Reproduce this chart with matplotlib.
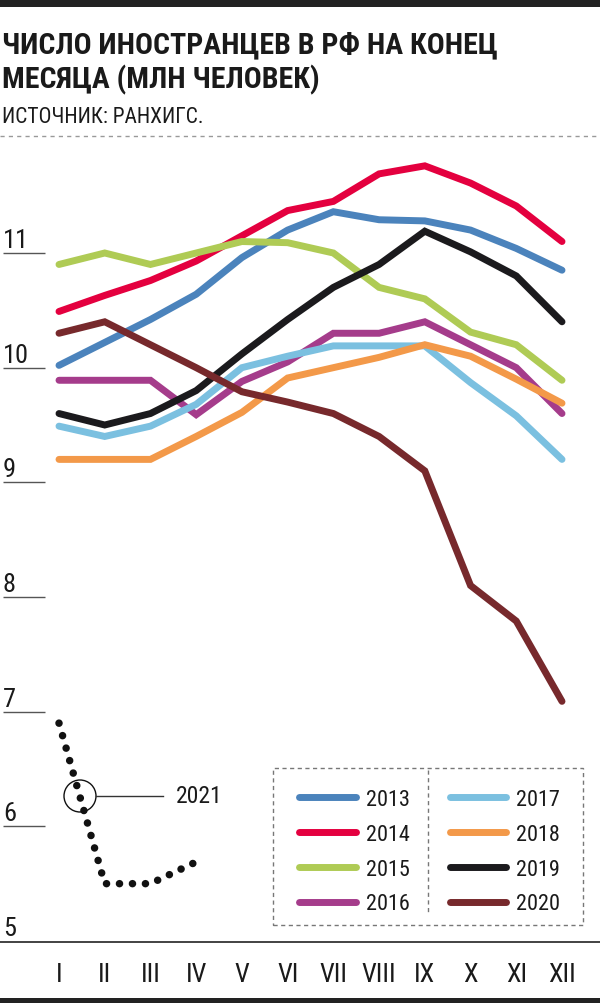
import matplotlib
matplotlib.use("Agg")
import matplotlib.pyplot as plt
from matplotlib import font_manager
from matplotlib.patches import Rectangle, Ellipse
from matplotlib.lines import Line2D

months = ["I", "II", "III", "IV", "V", "VI", "VII", "VIII", "IX", "X", "XI", "XII"]
years = ["2013", "2014", "2015", "2016", "2017", "2018", "2019", "2020"]
v2013 = [10.02, 10.22, 10.42, 10.64, 10.96, 11.20, 11.36, 11.29, 11.28, 11.20, 11.04, 10.85]
v2014 = [10.49, 10.63, 10.76, 10.93, 11.15, 11.37, 11.45, 11.69, 11.76, 11.61, 11.41, 11.10]
v2015 = [10.90, 11.00, 10.90, 11.00, 11.10, 11.09, 11.00, 10.70, 10.60, 10.31, 10.20, 9.89]
v2016 = [9.89, 9.89, 9.89, 9.59, 9.88, 10.05, 10.30, 10.30, 10.40, 10.20, 10.00, 9.60]
v2017 = [9.49, 9.40, 9.49, 9.68, 10.00, 10.10, 10.19, 10.19, 10.19, 9.87, 9.58, 9.20]
v2018 = [9.20, 9.20, 9.20, 9.40, 9.61, 9.91, 10.00, 10.09, 10.20, 10.10, 9.90, 9.69]
v2019 = [9.60, 9.50, 9.60, 9.80, 10.12, 10.42, 10.70, 10.90, 11.19, 11.01, 10.80, 10.40]
v2020 = [10.30, 10.40, 10.20, 10.00, 9.79, 9.70, 9.60, 9.40, 9.10, 8.10, 7.79, 7.09]
months2021 = ["I", "II", "III", "IV"]
v2021 = [6.90, 5.50, 5.50, 5.69]
yticks = [5, 6, 7, 8, 9, 10, 11]

series = [v2013, v2014, v2015, v2016, v2017, v2018, v2019, v2020]
colors = ["#4b83bc", "#e4003f", "#afcb55", "#a53c8b", "#7bc0e0", "#f39949", "#1b1a1d", "#77292c"]

names = {f.name for f in font_manager.fontManager.ttflist}
cands = ["Roboto Condensed", "Open Sans Condensed", "Liberation Sans Narrow", "Liberation Sans"]
FONT = next((c for c in cands if c in names), "DejaVu Sans")
plt.rcParams["font.family"] = [FONT, "DejaVu Sans"]

W, H = 600, 1004
fig = plt.figure(figsize=(W / 100, H / 100), dpi=100)

def fx(px):
    return px / W

def fy(py):
    return 1 - py / H

x_first, x_last = 59, 562
y_top_px, y_bot_px = 145, 942
unit = (942 - 254) / 6.0
step = (x_last - x_first) / 11.0
ax = fig.add_axes([0, fy(y_bot_px), 1, (y_bot_px - y_top_px) / H])
xpos = list(range(1, 13))
ax.set_xlim(1 - x_first / step, 12 + (W - x_last) / step)
ax.set_ylim(5, 5 + (y_bot_px - y_top_px) / unit)
ax.axis("off")

gx0 = 1 + (3 - x_first) / step
gx1 = 1 + (45 - x_first) / step
for t in yticks:
    if t != 5:
        ax.plot([gx0, gx1], [t, t], color="#555555", lw=1.0, solid_capstyle="butt")
    ax.text(gx0, t + 6 / unit, str(t), fontsize=19, color="#1a1a1a",
            ha="left", va="baseline")

for vals, c in zip(series, colors):
    ax.plot(xpos, vals, color=c, lw=5, solid_capstyle="round", solid_joinstyle="miter")

x21 = [months.index(m) + 1 for m in months2021]
ax.plot(x21, v2021, color="#111111", lw=5.4, linestyle=(0, (0.01, 1.72)),
        dash_capstyle="round")

cx, cy = 80, 797
fig.add_artist(Ellipse((fx(cx), fy(cy)), 32 / W, 32 / H, transform=fig.transFigure,
                       fill=False, edgecolor="#111111", lw=1.0))
fig.add_artist(Line2D([fx(96), fx(163)], [fy(cy), fy(cy)], color="#333333", lw=1.0))
fig.text(fx(176), fy(cy), "2021", fontsize=17, color="#1a1a1a", ha="left", va="center")

fig.add_artist(Line2D([0, 1], [fy(943), fy(943)], color="#222222", lw=1.2))
for i, m in enumerate(months):
    fig.text(fx(x_first + i * step), fy(975), m, fontsize=19, color="#1a1a1a",
             ha="center", va="center")

fig.add_artist(Rectangle((0, fy(8)), 1, 8 / H, transform=fig.transFigure,
                         color="#222222", lw=0))
fig.add_artist(Rectangle((0, 0), 1, 5 / H, transform=fig.transFigure,
                         color="#222222", lw=0))

fig.text(fx(2), fy(53), "ЧИСЛО ИНОСТРАНЦЕВ В РФ НА КОНЕЦ", fontsize=21.5,
         fontweight="bold", color="#1a1a1a", ha="left", va="baseline")
fig.text(fx(2), fy(88), "МЕСЯЦА (МЛН ЧЕЛОВЕК)", fontsize=21.5,
         fontweight="bold", color="#1a1a1a", ha="left", va="baseline")
fig.text(fx(2), fy(123), "ИСТОЧНИК: РАНХИГС.", fontsize=15.5,
         color="#1a1a1a", ha="left", va="baseline")
fig.add_artist(Line2D([0, 1], [fy(137), fy(137)], color="#999999", lw=1.0,
                      linestyle=(0, (3, 3))))

fig.add_artist(Rectangle((fx(273), fy(926)), (583 - 273) / W, (926 - 769) / H,
                         transform=fig.transFigure, fill=False,
                         edgecolor="#777777", lw=1.0, linestyle=(0, (3, 2.5))))
fig.add_artist(Line2D([fx(428), fx(428)], [fy(771), fy(913)], color="#777777",
                      lw=1.0, linestyle=(0, (3, 2.5))))
handles = [Line2D([], [], color=c, lw=5, solid_capstyle="round") for c in colors]
leg = ax.legend(handles, years, ncol=2, frameon=False, fontsize=16,
                loc="upper left", bbox_to_anchor=(fx(288), fy(779)),
                bbox_transform=fig.transFigure, borderpad=0,
                handlelength=2.55, handletextpad=0.45, labelspacing=0.62,
                columnspacing=1.8)
for t in leg.get_texts():
    t.set_color("#1a1a1a")

fig.savefig("out.png", dpi=100)
